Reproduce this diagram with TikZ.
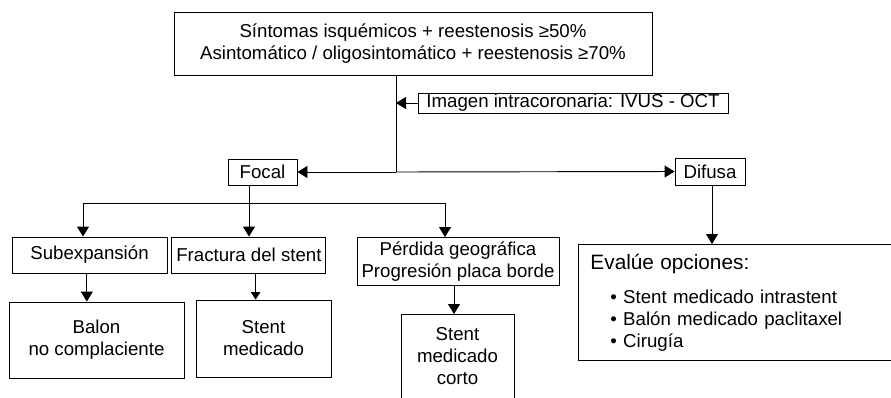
\documentclass[tikz,border=0pt]{standalone}
\usepackage{fontspec}
\setmainfont{Liberation Sans}
\usepackage{tikz}
\usetikzlibrary{arrows.meta, positioning, calc}

\newcommand{\headfont}{\fontsize{15.6}{18}\selectfont}

\begin{document}
\begin{tikzpicture}[
    x=0.75pt, y=-0.75pt,
    % Styles
    every node/.style={font=\fontsize{14}{16.5}\selectfont},
    flowbox/.style={draw, line width=0.7pt, align=center, inner sep=0pt},
    link/.style={line width=0.7pt},
    arr/.style={link, -{Triangle[width=9pt, length=7.5pt]}},
    thinarr/.style={link, -{Triangle[width=7pt, length=5.5pt]}}
]
    % Frame of the figure
    \path[use as bounding box, clip] (0,0) rectangle (891,397);

    % Entry criteria
    \node[flowbox, minimum width=358.5pt, minimum height=47.25pt] (criteria) at (413,43.5)
        {Síntomas isquémicos + reestenosis ≥50\%\\Asintomático / oligosintomático + reestenosis ≥70\%};

    % Imaging note
    \node[flowbox, minimum width=232.5pt, minimum height=15pt] (imaging) at (573,103)
        {Imagen intracoronaria: IVUS - OCT};

    % Focal / Difusa split
    \coordinate (split) at (396,172);
    \node[flowbox, minimum width=51.75pt, minimum height=19.5pt] (focal) at (262.5,172) {Focal};
    \node[flowbox, minimum width=52.5pt, minimum height=20.25pt] (difusa) at (710,171.5) {Difusa};

    % Focal causes
    \node[flowbox, minimum width=116.25pt, minimum height=27pt] (subexp) at (89.5,255) {Subexpansión};
    \node[flowbox, minimum width=115.5pt, minimum height=27pt, right=3pt of subexp] (fractura) {Fractura del stent};
    \node[flowbox, minimum width=151.5pt, minimum height=36pt, anchor=north] (perdida) at (458,237)
        {Pérdida geográfica\\Progresión placa borde};

    % Treatments
    \node[flowbox, minimum width=131.25pt, minimum height=57pt] (balon) at (96.5,340) {Balon\\no complaciente};
    \node[flowbox, minimum width=101.25pt, minimum height=57.75pt] (stentmed) at (263.5,338.5) {Stent\\medicado};
    % (runs off the bottom edge, as in the source)
    \node[flowbox, minimum width=84.75pt, inner ysep=10pt, anchor=north] (corto) at (457.5,314)
        {Stent\\medicado\\corto\\\mbox{}};

    % Diffuse options
    \node[flowbox, anchor=north west, minimum width=245pt, minimum height=87pt, text width=230pt,
          align=left, inner xsep=9pt] (evalue) at (578,244)
        {{\headfont Evalúe opciones:}\\[9pt]
         \hspace*{15pt}• Stent medicado intrastent\\
         \hspace*{15pt}• Balón medicado paclitaxel\\
         \hspace*{15pt}• Cirugía};

    % Bus below Focal
    \coordinate (fbus) at (249,203);
    \coordinate (busL) at (83,203);
    \coordinate (busR) at (445,203);

    % Connectors
    \draw[link] (criteria.south -| split) -- (split);
    \draw[arr] (imaging.west) -- (imaging.west -| split);
    \draw[arr] (split) -- (focal.east);
    \draw[arr] (split) -- (difusa.west);
    \draw[link] (focal.south -| fbus) -- (fbus);
    \draw[link] (busL) -- (busR);
    \draw[arr] (busL) -- (busL |- subexp.north);
    \draw[arr] (fbus) -- (fbus |- fractura.north);
    \draw[arr] (busR) -- (busR |- perdida.north);
    \draw[arr] ([xshift=-2pt]subexp.south) -- ([xshift=-2pt]subexp.south |- balon.north);
    \draw[thinarr] ([xshift=5pt]fractura.south) -- ([xshift=5pt]fractura.south |- stentmed.north);
    \draw[arr] ([xshift=-3pt]perdida.south) -- ([xshift=-3pt]perdida.south |- corto.north);
    \draw[arr] ([xshift=1.5pt]difusa.south) -- ([xshift=1.5pt]difusa.south |- evalue.north);
\end{tikzpicture}
\end{document}
